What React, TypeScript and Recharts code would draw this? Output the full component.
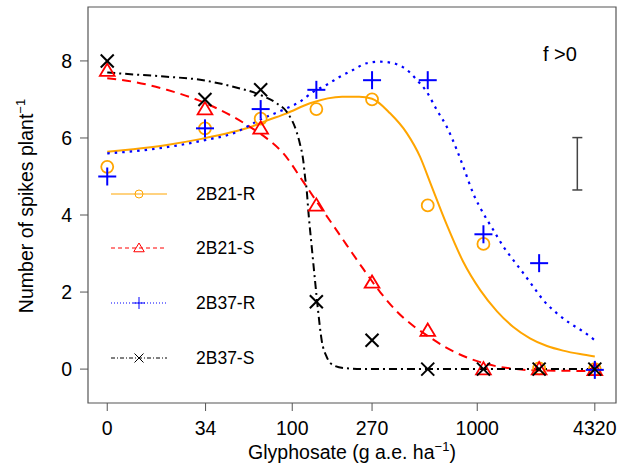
import React from 'react';
import {
  ComposedChart, Line, Scatter, XAxis, YAxis, ReferenceArea, ErrorBar, Customized,
} from 'recharts';

// ---- data ----
const doses = [0, 33.75, 67.5, 135, 270, 540, 1080, 2160, 4320];
const r21R = [5.25, 6.25, 6.5, 6.75, 7.0, 4.25, 3.25, 0.02, 0.0];
const r21S = [7.75, 6.75, 6.25, 4.25, 2.25, 1.0, 0.0, 0.0, -0.02];
const r37R = [5.0, 6.25, 6.75, 7.25, 7.5, 7.5, 3.5, 2.75, -0.02];
const r37S = [8.0, 7.0, 7.25, 1.75, 0.75, 0.0, 0.0, 0.0, 0.0];

const tickDoses = [0, 34, 100, 270, 1000, 4320];
const tickLabels = ['0', '34', '100', '270', '1000', '4320'];

// fitted curves (dose, value)
const curveR21R_dose = [10, 13.8, 21, 31.8, 48, 59, 72.8, 93.3, 124.7, 186, 230, 270, 338, 417, 491, 556, 684, 841, 1038, 1279, 1560, 1928, 2382, 2911, 3597, 4320];
const curveR21R_val = [5.64, 5.71, 5.82, 5.97, 6.16, 6.28, 6.45, 6.64, 6.9, 7.07, 7.07, 7.02, 6.64, 6.12, 5.51, 4.85, 3.75, 2.78, 2.05, 1.5, 1.1, 0.8, 0.6, 0.48, 0.39, 0.33];

const curveR21S_dose = [10, 13.8, 21, 29.2, 37.5, 48, 59, 72.8, 89.5, 114.8, 135.5, 160, 197, 242, 298.5, 367, 452, 556, 684, 841, 1038, 1279, 1560, 2000, 4320];
const curveR21S_val = [7.55, 7.46, 7.25, 7.03, 6.81, 6.55, 6.29, 5.99, 5.6, 4.86, 4.35, 3.85, 3.22, 2.6, 2.0, 1.5, 1.12, 0.82, 0.55, 0.34, 0.18, 0.07, 0.01, -0.03, -0.05];

const curveR37R_dose = [10, 17, 34.2, 48, 68.7, 93.3, 110, 130, 153.5, 181, 214, 252, 298.5, 352, 416, 471, 533, 604, 684, 774, 841, 953, 1079, 1222, 1384, 1567, 1774, 2009, 2275, 2692, 3170, 3750, 4320];
const curveR37R_val = [5.6, 5.7, 5.95, 6.12, 6.5, 6.77, 6.94, 7.2, 7.38, 7.59, 7.77, 7.94, 7.98, 7.94, 7.77, 7.51, 7.2, 6.73, 6.29, 5.7, 5.25, 4.55, 4.04, 3.61, 3.18, 2.83, 2.49, 2.14, 1.79, 1.45, 1.19, 0.97, 0.75];

const curveR37S_dose = [10, 13.8, 21, 31.8, 48, 67, 82.4, 93.3, 105.7, 110, 114.8, 117.2, 119.7, 122.2, 127.4, 132.7, 138.4, 144.2, 153.5, 166.7, 197.2, 251, 4320];
const curveR37S_val = [7.7, 7.65, 7.59, 7.51, 7.33, 7.12, 6.9, 6.68, 6.15, 5.85, 5.4, 5.0, 4.65, 4.1, 3.18, 2.31, 1.45, 0.75, 0.32, 0.1, 0.02, 0.0, 0.0];

// LSD-type error bar
const barDose = [3475];
const barMid = [5.33];
const barHalf = [0.68];

const seriesNames = ['2B21-R', '2B21-S', '2B37-R', '2B37-S'];

// ---- helpers ----
const pos = (d: number) => (d === 0 ? 1 : Math.log10(d));
const toPts = (xs: number[], ys: number[]) => xs.map((d, i) => ({ x: pos(d), y: ys[i] }));

const xTicks = tickDoses.map(pos);
const fmtX = (v: number) => {
  let best = 0;
  xTicks.forEach((t, i) => { if (Math.abs(t - v) < Math.abs(xTicks[best] - v)) best = i; });
  return tickLabels[best];
};

const ORANGE = '#FFA500';
const RED = '#FF0000';
const BLUE = '#0000FF';
const BLACK = '#000000';
const FONT = '"Liberation Sans", Arial, sans-serif';

const X_DOMAIN: [number, number] = [0.896, 3.75];
const Y_DOMAIN: [number, number] = [-0.88, 9.4];

const circleMark = (r: number, sw: number) => (p: any) => (
  <circle cx={p.cx} cy={p.cy} r={r} fill="none" stroke={ORANGE} strokeWidth={sw} />
);
const triMark = (s: number, sw: number) => (p: any) => (
  <polygon
    points={`${p.cx},${p.cy - s * 1.0} ${p.cx - s * 1.05},${p.cy + s * 0.75} ${p.cx + s * 1.05},${p.cy + s * 0.75}`}
    fill="none" stroke={RED} strokeWidth={sw} strokeLinejoin="miter"
  />
);
const plusMark = (s: number, sw: number) => (p: any) => (
  <g stroke={BLUE} strokeWidth={sw}>
    <line x1={p.cx - s} y1={p.cy} x2={p.cx + s} y2={p.cy} />
    <line x1={p.cx} y1={p.cy - s} x2={p.cx} y2={p.cy + s} />
  </g>
);
const xMark = (s: number, sw: number) => (p: any) => (
  <g stroke={BLACK} strokeWidth={sw}>
    <line x1={p.cx - s} y1={p.cy - s} x2={p.cx + s} y2={p.cy + s} />
    <line x1={p.cx - s} y1={p.cy + s} x2={p.cx + s} y2={p.cy - s} />
  </g>
);

const legendRows = [
  { y: 194, color: ORANGE, dash: undefined, mark: circleMark(4, 1) },
  { y: 248, color: RED, dash: '4 3', mark: triMark(5, 1) },
  { y: 303, color: BLUE, dash: '1 2', mark: plusMark(6, 1) },
  { y: 358, color: BLACK, dash: '4 2 1 2', mark: xMark(4.5, 1) },
];

const Overlay = () => (
  <g fontFamily={FONT}>
    {legendRows.map((r, i) => (
      <g key={i}>
        <line x1={111} x2={167} y1={r.y} y2={r.y} stroke={r.color} strokeWidth={1} strokeDasharray={r.dash} />
        {r.mark({ cx: 139, cy: r.y })}
        <text x={196} y={r.y} dy="0.35em" fontSize={17.5} fill="#000">{seriesNames[i]}</text>
      </g>
    ))}
    <text x={543} y={61} fontSize={20} fill="#000">f &gt;0</text>
    <text x={352} y={459} fontSize={19.5} textAnchor="middle" fill="#000">
      Glyphosate (g a.e. ha<tspan fontSize={13} dy={-8}>−1</tspan><tspan dy={8}>)</tspan>
    </text>
    <text x={33} y={206} fontSize={19.5} textAnchor="middle" fill="#000" transform="rotate(-90, 33, 206)">
      Number of spikes plant<tspan fontSize={13} dy={-8}>−1</tspan>
    </text>
  </g>
);

export default function App() {
  const errData = barDose.map((d, i) => ({ x: pos(d), y: barMid[i], err: barHalf[i] }));
  return (
    <div style={{ position: 'absolute', left: 0, top: 0, width: 617, height: 470, background: '#fff' }}>
      <ComposedChart width={617} height={470} margin={{ top: 7, right: 1, bottom: 0, left: 0 }} style={{ fontFamily: FONT }}>
        <XAxis
          type="number" dataKey="x" domain={X_DOMAIN} allowDataOverflow ticks={xTicks}
          tickFormatter={fmtX} height={67} axisLine={false} tickSize={8} tickMargin={10}
          tickLine={{ stroke: '#555' }} tick={{ fontSize: 19.5, fill: '#000', fontFamily: FONT }} interval={0}
        />
        <YAxis
          type="number" dataKey="y" domain={Y_DOMAIN} allowDataOverflow ticks={[0, 2, 4, 6, 8]}
          width={88} axisLine={false} tickSize={8} tickMargin={8}
          tickLine={{ stroke: '#555' }} tick={{ fontSize: 19.5, fill: '#000', fontFamily: FONT }} interval={0}
        />
        <ReferenceArea x1={X_DOMAIN[0]} x2={X_DOMAIN[1]} y1={Y_DOMAIN[0]} y2={Y_DOMAIN[1]} fill="none" stroke="#555" strokeWidth={1.2} ifOverflow="visible" />

        <Line data={toPts(curveR21R_dose, curveR21R_val)} dataKey="y" type="monotone" stroke={ORANGE} strokeWidth={2} dot={false} isAnimationActive={false} />
        <Line data={toPts(curveR21S_dose, curveR21S_val)} dataKey="y" type="monotone" stroke={RED} strokeWidth={2} strokeDasharray="9 6" dot={false} isAnimationActive={false} />
        <Line data={toPts(curveR37R_dose, curveR37R_val)} dataKey="y" type="monotone" stroke={BLUE} strokeWidth={2.2} strokeDasharray="2.5 5" dot={false} isAnimationActive={false} />
        <Line data={toPts(curveR37S_dose, curveR37S_val)} dataKey="y" type="monotone" stroke={BLACK} strokeWidth={2} strokeDasharray="8 4 2 4" dot={false} isAnimationActive={false} />

        <Scatter data={toPts(doses, r21R)} dataKey="y" shape={circleMark(6, 1.8)} isAnimationActive={false} />
        <Scatter data={toPts(doses, r21S)} dataKey="y" shape={triMark(7, 1.8)} isAnimationActive={false} />
        <Scatter data={toPts(doses, r37R)} dataKey="y" shape={plusMark(9, 2)} isAnimationActive={false} />
        <Scatter data={toPts(doses, r37S)} dataKey="y" shape={xMark(6.5, 2)} isAnimationActive={false} />

        <Scatter data={errData} dataKey="y" shape={() => <g />} isAnimationActive={false}>
          <ErrorBar dataKey="err" direction="y" width={5} stroke="#444" strokeWidth={1.5} isAnimationActive={false} />
        </Scatter>

        <Customized component={Overlay} />
      </ComposedChart>
    </div>
  );
}
